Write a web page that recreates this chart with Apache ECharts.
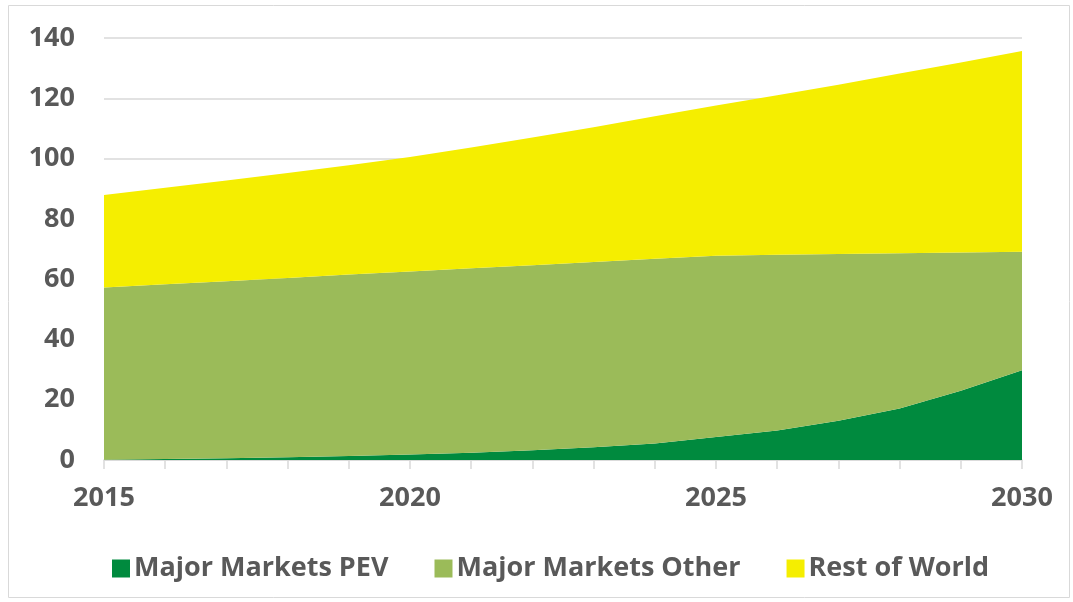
<!DOCTYPE html>
<html>
<head>
<meta charset="utf-8">
<script src="https://cdn.jsdelivr.net/npm/echarts@6/dist/echarts.min.js"></script>
<style>
    html, body { margin: 0; padding: 0; background: #fff; }
    #chart { width: 1073px; height: 602px; }
</style>
</head>
<body>
<div id="chart"></div>
<script>
// data
var years = ['2015', '2016', '2017', '2018', '2019', '2020', '2021', '2022',
    '2023', '2024', '2025', '2026', '2027', '2028', '2029', '2030'];
var pev = [0.1, 0.3, 0.6, 0.9, 1.3, 1.8, 2.4, 3.2, 4.2, 5.5, 7.6, 9.8, 13.0, 17.1, 23.0, 29.8];
var other = [57.1, 58.0, 58.7, 59.5, 60.2, 60.7, 61.2, 61.4, 61.5, 61.3, 60.2, 58.3, 55.3, 51.5, 45.8, 39.3];
var rest = [30.7, 32.0, 33.4, 34.8, 36.3, 38.0, 40.1, 42.4, 44.7, 47.2, 49.8, 52.9, 56.2, 59.6, 63.1, 66.6];
var seriesNames = ['Major Markets PEV', 'Major Markets Other', 'Rest of World'];
var colors = ['#008a3e', '#9bbb59', '#f5ee00'];

(function (window) {
    var font = '"Open Sans", "DejaVu Sans", sans-serif';
    var chart = echarts.init(document.getElementById('chart'));

    function area(name, data, color) {
        return {
            name: name,
            type: 'line',
            stack: 'total',
            data: data,
            symbol: 'none',
            lineStyle: { width: 0 },
            areaStyle: { color: color, opacity: 1 },
            itemStyle: { color: color }
        };
    }

    chart.setOption({
        animation: false,
        textStyle: { fontFamily: font },
        graphic: [{
            type: 'rect',
            shape: { x: 8.5, y: 5.5, width: 1061, height: 592 },
            style: { fill: 'none', stroke: '#d9d9d9', lineWidth: 1 },
            silent: true
        }],
        grid: { left: 104, right: 51, top: 38, bottom: 142 },
        legend: {
            left: 107,
            top: 550,
            icon: 'rect',
            itemWidth: 18,
            itemHeight: 18,
            itemGap: 46,
            textStyle: { fontFamily: font, fontSize: 27, fontWeight: 'bold', color: '#595959', padding: [0, 0, 0, -1] },
            data: seriesNames
        },
        xAxis: {
            type: 'category',
            boundaryGap: false,
            data: years,
            axisLine: { lineStyle: { color: '#d9d9d9', width: 1.5 } },
            axisTick: { show: true, interval: 0, length: 9, lineStyle: { color: '#d9d9d9', width: 1.5 } },
            axisLabel: {
                interval: 4,
                margin: 25,
                fontFamily: font,
                fontSize: 27,
                fontWeight: 'bold',
                color: '#595959'
            }
        },
        yAxis: {
            type: 'value',
            min: 0,
            max: 140,
            interval: 20,
            axisLine: { show: false },
            axisTick: { show: false },
            splitLine: { lineStyle: { color: '#d9d9d9', width: 1.5 } },
            axisLabel: {
                margin: 29,
                fontFamily: font,
                fontSize: 27,
                fontWeight: 'bold',
                color: '#595959'
            }
        },
        series: [
            area(seriesNames[0], pev, colors[0]),
            area(seriesNames[1], other, colors[1]),
            area(seriesNames[2], rest, colors[2])
        ]
    });
})(window);
</script>
</body>
</html>
